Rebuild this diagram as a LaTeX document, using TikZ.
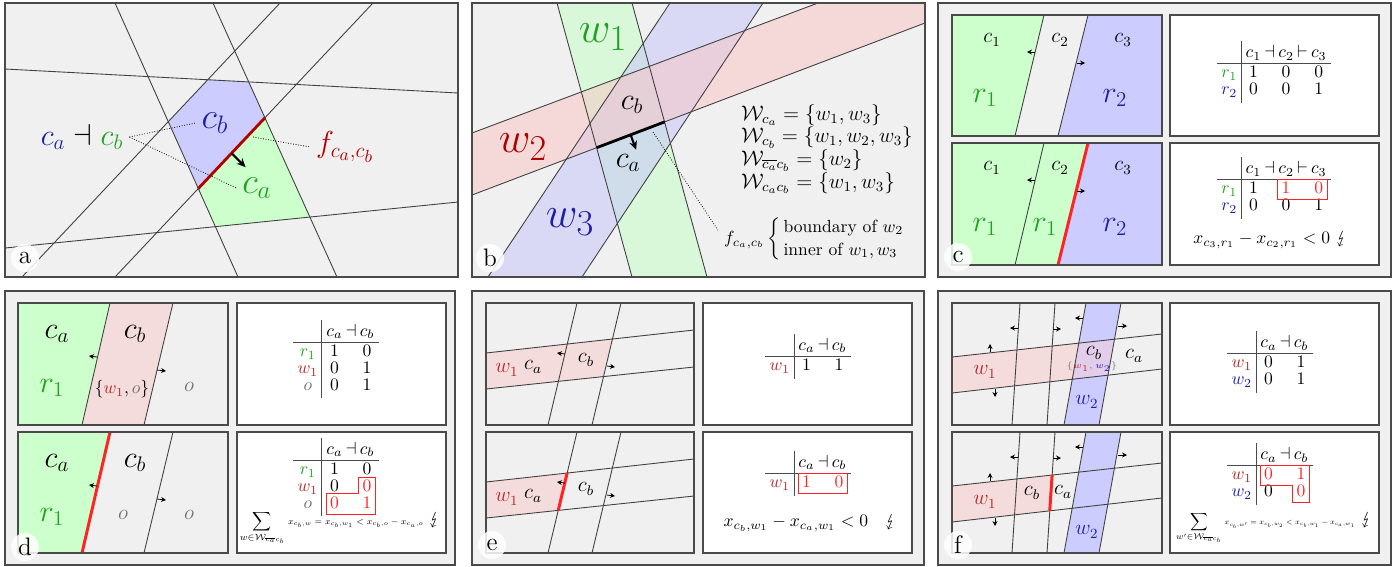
\documentclass[tikz,border=0pt]{standalone}
\usepackage{amsmath}
\usepackage{graphicx}
\usepackage{stmaryrd}
\usetikzlibrary{arrows.meta,calc,matrix,positioning}
\definecolor{hpInk}{HTML}{1E1E1E}
\definecolor{hpFrame}{HTML}{4A4A4A}
\definecolor{hpBack}{HTML}{F0F0F0}
\definecolor{hpGreenFill}{HTML}{CCFFCC}
\definecolor{hpBlueFill}{HTML}{CCCCFF}
\definecolor{hpPinkFill}{HTML}{F5DCDC}
\definecolor{hpPurpleFill}{HTML}{E2CDEB}
\definecolor{hpBandGreen}{HTML}{C4FFC4}
\definecolor{hpBandRed}{HTML}{FAC4C4}
\definecolor{hpBandBlue}{HTML}{C4C4FA}
\definecolor{hpGreen}{HTML}{22A022}
\definecolor{hpBlue}{HTML}{1E1EA6}
\definecolor{hpRed}{HTML}{B42828}
\definecolor{hpDeepRed}{HTML}{B00000}
\definecolor{hpFlag}{HTML}{FF2424}
\definecolor{hpMuted}{HTML}{707070}
\tikzset{
  hp panel/.style={fill=hpBack, draw=hpFrame, line width=.6pt},
  hp card/.style={fill=white, draw=hpFrame, line width=.6pt},
  hp box/.style={draw=hpFrame, line width=.6pt},
  hp cut/.style={draw=hpInk!85, line width=.5pt},
  hp face/.style={draw=hpFlag, line width=1.7pt},
  hp face dark/.style={draw=hpDeepRed, line width=1.6pt},
  hp face ink/.style={draw=black, line width=1.6pt},
  hp push/.style={draw=black, line width=.45pt, -{Stealth[length=2.8pt,width=2.8pt]}},
  hp push big/.style={draw=black, line width=1.2pt, -{Stealth[length=5pt,width=4.6pt]}},
  hp hint/.style={draw=black, line width=.45pt, densely dotted},
  hp tag/.style={circle, fill=white, fill opacity=.85, text opacity=1,
    minimum size=16pt, inner sep=0pt, font=\Large},
  hp table/.style={matrix of math nodes, inner sep=2pt, column sep=1pt, row sep=0pt,
    nodes={inner sep=.4pt, text height=6.8pt, text depth=2pt, minimum width=7pt}},
  hp rule/.style={draw=hpInk!80, line width=.55pt},
  hp flag/.style={draw=hpFlag, line width=.55pt}
}
\newcommand{\hprules}[1]{%
  \coordinate (#1v) at ($(#1-2-1.east)!.5!(#1-1-2.west)$);
  \coordinate (#1h) at ($(#1-1-2.south)!.5!(#1-2-2.north)$);
  \draw[hp rule] (#1v |- #1.north) -- (#1v |- #1.south);
  \draw[hp rule] (#1h -| #1.west) -- (#1h -| #1.east);
}

\begin{document}
\begin{tikzpicture}[x=.02cm,y=-.02cm]
  \useasboundingbox (0,0) rectangle (1399,566);

  % (a) two neighbouring cells
  \path[hp panel] (5,3) rectangle (458,277);
  \coordinate (a1s) at (5,69);    \coordinate (a1e) at (458,93);
  \coordinate (a2s) at (5,248);   \coordinate (a2e) at (458,202);
  \coordinate (a3s) at (115,3);   \coordinate (a3e) at (238,277);
  \coordinate (a4s) at (213,3);   \coordinate (a4e) at (337,277);
  \coordinate (a5s) at (22,277);  \coordinate (a5e) at (280,3);
  \coordinate (a6s) at (115,277); \coordinate (a6e) at (373,3);
  \coordinate (aP) at (intersection of a1s--a1e and a5s--a5e);
  \coordinate (aQ) at (intersection of a1s--a1e and a4s--a4e);
  \coordinate (aR) at (intersection of a4s--a4e and a6s--a6e);
  \coordinate (aS) at (intersection of a6s--a6e and a3s--a3e);
  \coordinate (aT) at (intersection of a3s--a3e and a5s--a5e);
  \coordinate (aU) at (intersection of a4s--a4e and a2s--a2e);
  \coordinate (aV) at (intersection of a3s--a3e and a2s--a2e);
  \fill[hpBlueFill] (aP) -- (aQ) -- (aR) -- (aS) -- (aT) -- cycle;
  \fill[hpGreenFill] (aR) -- (aU) -- (aV) -- (aS) -- cycle;
  \draw[hp cut] (a1s) -- (a1e);
  \draw[hp cut] (a2s) -- (a2e);
  \draw[hp cut] (a3s) -- (a3e);
  \draw[hp cut] (a4s) -- (a4e);
  \draw[hp cut] (a5s) -- (a5e);
  \draw[hp cut] (a6s) -- (a6e);
  \draw[hp face dark] (aS) -- (aR);
  \coordinate (aArr) at ($(aS)!.5!(aR)$);
  \draw[hp push big] (aArr) -- ++(14,14);
  \node[font=\huge, text=hpBlue] (cbA) at (215,123) {$c_b$};
  \node[font=\huge, text=hpGreen] (caA) at (257,188) {$c_a$};
  \node[font=\LARGE, text=hpDeepRed] (fA) at (345,147) {$f_{c_a,c_b}$};
  \node[font=\LARGE] (relA) at (82,137) {${\color{hpBlue}c_a}\dashv{\color{hpGreen}c_b}$};
  \coordinate (aHint) at (253,137);
  \draw[hp hint] (relA.east) -- (cbA.west);
  \draw[hp hint] (relA.east) -- (caA.west);
  \draw[hp hint] (aHint) -- (fA.west);
  \node[hp tag] (tagA) at (25,258) {a};

  % (b) the three walls
  \path[hp panel] (472,3) rectangle (925,277);
  \fill[hpBandGreen, fill opacity=.5] (557,3) -- (632,3) -- (707,277) -- (632,277) -- cycle;
  \fill[hpBandBlue, fill opacity=.5] (488,277) -- (670,3) -- (763,3) -- (582,277) -- cycle;
  \fill[hpBandRed, fill opacity=.5] (472,133) -- (818,3) -- (925,3) -- (925,23) -- (472,195) -- cycle;
  \coordinate (b1s) at (557,3);   \coordinate (b1e) at (632,277);
  \coordinate (b2s) at (632,3);   \coordinate (b2e) at (707,277);
  \coordinate (b3s) at (488,277); \coordinate (b3e) at (670,3);
  \coordinate (b4s) at (582,277); \coordinate (b4e) at (763,3);
  \coordinate (b5s) at (472,133); \coordinate (b5e) at (818,3);
  \coordinate (b6s) at (472,195); \coordinate (b6e) at (925,23);
  \draw[hp cut] (b1s) -- (b1e);
  \draw[hp cut] (b2s) -- (b2e);
  \draw[hp cut] (b3s) -- (b3e);
  \draw[hp cut] (b4s) -- (b4e);
  \draw[hp cut] (b5s) -- (b5e);
  \draw[hp cut] (b6s) -- (b6e);
  \draw[hp box] (472,3) rectangle (925,277);
  \coordinate (bP) at (intersection of b6s--b6e and b1s--b1e);
  \coordinate (bQ) at (intersection of b6s--b6e and b2s--b2e);
  \draw[hp face ink] (bP) -- (bQ);
  \coordinate (bArr) at ($(bP)!.5!(bQ)$);
  \draw[hp push big] (bArr) -- ++(5.5,15);
  \node[font=\Huge, text=hpGreen] (w1B) at (603,37) {$w_1$};
  \node[font=\Huge, text=hpDeepRed] (w2B) at (523,147) {$w_2$};
  \node[font=\Huge, text=hpBlue] (w3B) at (570,222) {$w_3$};
  \node[font=\LARGE] (cbB) at (632,105) {$c_b$};
  \node[font=\LARGE] (caB) at (628,163) {$c_a$};
  \node[anchor=west, align=left, font=\fontsize{12}{12.9}\selectfont] (eqB) at (735,149)
    {$\mathcal{W}_{c_a}=\{w_1,w_3\}$\\
     $\mathcal{W}_{c_b}=\{w_1,w_2,w_3\}$\\
     $\mathcal{W}_{\overline{c_a}c_b}=\{w_2\}$\\
     $\mathcal{W}_{c_ac_b}=\{w_1,w_3\}$};
  \node[anchor=west, execute at begin node=\renewcommand{\arraystretch}{1.1}] (fB) at (718,239)
    {$f_{c_a,c_b}\left\{\begin{array}{@{\,}l@{}}\text{boundary of }w_2\\
      \text{inner of }w_1,w_3\end{array}\right.$};
  \coordinate (bHint) at (653,132);
  \draw[hp hint] (bHint) -- ([yshift=5pt]fB.west);
  \node[hp tag] (tagB) at (490,258) {b};

  % (c) a region split by the flip
  \path[hp panel] (938,3) rectangle (1391,277);
  \fill[hpBack] (952,15) rectangle (1162,136);
  \fill[hpGreenFill] (952,15) -- (1044,15) -- (1015,136) -- (952,136) -- cycle;
  \fill[hpBlueFill] (1088,15) -- (1162,15) -- (1162,136) -- (1058,136) -- cycle;
  \draw[hp cut] (1044,15) -- (1015,136);
  \draw[hp cut] (1088,15) -- (1058,136);
  \draw[hp push] (1035,52) -- ++(-8,0);
  \draw[hp push] (1077,63) -- ++(8,0);
  \draw[hp box] (952,15) rectangle (1162,136);
  \node[font=\large] (c1C) at (992,40) {$c_1$};
  \node[font=\large] (c2C) at (1060,40) {$c_2$};
  \node[font=\large] (c3C) at (1123,40) {$c_3$};
  \node[font=\LARGE, text=hpGreen] (r1C) at (985,98) {$r_1$};
  \node[font=\LARGE, text=hpBlue] (r2C) at (1115,98) {$r_2$};
  \begin{scope}[shift={(0,128)}]
    \fill[hpBack] (952,15) rectangle (1162,137);
    \fill[hpGreenFill] (952,15) -- (1088,15) -- (1058,137) -- (952,137) -- cycle;
    \fill[hpBlueFill] (1088,15) -- (1162,15) -- (1162,137) -- (1058,137) -- cycle;
    \draw[hp cut] (1044,15) -- (1015,137);
    \draw[hp face] (1088,15) -- (1058,137);
    \draw[hp push] (1035,52) -- ++(-8,0);
    \draw[hp push] (1077,63) -- ++(8,0);
    \draw[hp box] (952,15) rectangle (1162,137);
    \node[font=\large] (c1Cb) at (992,40) {$c_1$};
    \node[font=\large] (c2Cb) at (1060,40) {$c_2$};
    \node[font=\large] (c3Cb) at (1123,40) {$c_3$};
    \node[font=\LARGE, text=hpGreen] (r1Cb) at (985,99) {$r_1$};
    \node[font=\LARGE, text=hpGreen] (r1Cc) at (1045,99) {$r_1$};
    \node[font=\LARGE, text=hpBlue] (r2Cb) at (1115,99) {$r_2$};
  \end{scope}
  \path[hp card] (1170,15) rectangle (1379,136);
  \matrix (tabC1) [hp table] at (1274,72) {
      &[3pt] c_1 & \dashv & c_2 & \vdash & c_3 \\[2pt]
    |[text=hpGreen]| r_1 & 1 & & 0 & & 0 \\
    |[text=hpBlue]| r_2 & 0 & & 0 & & 1 \\
  };
  \hprules{tabC1}
  \path[hp card] (1170,143) rectangle (1379,265);
  \matrix (tabC2) [hp table] at (1274,188) {
      &[3pt] c_1 & \dashv & c_2 & \vdash & c_3 \\[2pt]
    |[text=hpGreen]| r_1 & 1 & & |[text=hpFlag]| 1 & & |[text=hpFlag]| 0 \\
    |[text=hpBlue]| r_2 & 0 & & 0 & & 1 \\
  };
  \hprules{tabC2}
  \draw[hp flag] ([xshift=-1pt,yshift=.8pt]tabC2-2-4.north west)
    rectangle ([xshift=1pt,yshift=-.8pt]tabC2-2-6.south east);
  \node (ineqC) at (1270,240) {$x_{c_3,r_1}-x_{c_2,r_1}<0\ \lightning$};
  \node[hp tag] (tagC) at (958,257) {c};

  % (d) the wall w_1 against the other regions
  \path[hp panel] (5,291) rectangle (455,565);
  \fill[hpBack] (18,303) rectangle (228,425);
  \fill[hpGreenFill] (18,303) -- (110,303) -- (82,425) -- (18,425) -- cycle;
  \fill[hpPinkFill] (110,303) -- (173,303) -- (144,425) -- (82,425) -- cycle;
  \draw[hp cut] (110,303) -- (82,425);
  \draw[hp cut] (173,303) -- (144,425);
  \draw[hp push] (97,357) -- ++(-8,-1);
  \draw[hp push] (157,370) -- ++(9,1);
  \draw[hp box] (18,303) rectangle (228,425);
  \node[font=\LARGE] (caD) at (57,334) {$c_a$};
  \node[font=\LARGE] (cbD) at (135,334) {$c_b$};
  \node[font=\LARGE, text=hpGreen] (r1D) at (52,388) {$r_1$};
  \node (setD) at (122,389) {$\{{\color{hpRed}w_1},{\color{hpMuted}o}\}$};
  \node[font=\large, text=hpMuted] (oD) at (189,387) {$o$};
  \begin{scope}[shift={(0,129)}]
    \fill[hpBack] (18,303) rectangle (228,424);
    \fill[hpGreenFill] (18,303) -- (110,303) -- (82,424) -- (18,424) -- cycle;
    \draw[hp face] (110,303) -- (82,424);
    \draw[hp cut] (173,303) -- (144,424);
    \draw[hp push] (97,357) -- ++(-8,-1);
    \draw[hp push] (157,370) -- ++(9,1);
    \draw[hp box] (18,303) rectangle (228,424);
    \node[font=\LARGE] (caDb) at (57,334) {$c_a$};
    \node[font=\LARGE] (cbDb) at (135,334) {$c_b$};
    \node[font=\LARGE, text=hpGreen] (r1Db) at (52,388) {$r_1$};
    \node[font=\large, text=hpMuted] (oDb) at (123,386) {$o$};
    \node[font=\large, text=hpMuted] (oDc) at (189,386) {$o$};
  \end{scope}
  \path[hp card] (237,303) rectangle (446,425);
  \matrix (tabD1) [hp table] at (336,359) {
      &[3pt] c_a & \dashv & c_b \\[2pt]
    |[text=hpGreen]| r_1 & 1 & & 0 \\
    |[text=hpRed]| w_1 & 0 & & 1 \\
    |[text=hpMuted]| o & 0 & & 1 \\
  };
  \hprules{tabD1}
  \path[hp card] (237,432) rectangle (446,553);
  \matrix (tabD2) [hp table] at (336,477) {
      &[3pt] c_a & \dashv & c_b \\[2pt]
    |[text=hpGreen]| r_1 & 1 & & 0 \\
    |[text=hpRed]| w_1 & 0 & & |[text=hpFlag]| 0 \\
    |[text=hpMuted]| o & |[text=hpFlag]| 0 & & |[text=hpFlag]| 1 \\
  };
  \hprules{tabD2}
  \draw[hp flag] ([xshift=-1pt,yshift=.8pt]tabD2-3-4.north west)
    -| ([xshift=1pt,yshift=-.8pt]tabD2-4-4.south east)
    -| ([xshift=-1pt,yshift=.8pt]tabD2-4-2.north west)
    -| ([xshift=-1pt,yshift=.8pt]tabD2-3-4.north west) -- cycle;
  \node (sumD) at (340,528) {\scalebox{.75}{$\displaystyle\sum_{w\in\mathcal{W}_{\overline{c_a}c_b}}$}\,\scalebox{.7}{\scriptsize
    $x_{c_b,w}=x_{c_b,w_1}<x_{c_b,o}-x_{c_a,o}$}\ $\lightning$};
  \node[hp tag] (tagD) at (25,547) {d};

  % (e) one wall crossed by the flip
  \path[hp panel] (472,291) rectangle (924,565);
  \fill[hpBack] (486,303) rectangle (694,425);
  \coordinate (e1s) at (577,303); \coordinate (e1e) at (548,425);
  \coordinate (e2s) at (621,303); \coordinate (e2e) at (592,425);
  \coordinate (e3s) at (486,353); \coordinate (e3e) at (694,330);
  \coordinate (e4s) at (486,389); \coordinate (e4e) at (694,367);
  \fill[hpPinkFill] (e3s) -- (intersection of e3s--e3e and e2s--e2e)
    -- (intersection of e4s--e4e and e2s--e2e) -- (e4s) -- cycle;
  \draw[hp cut] (e1s) -- (e1e);
  \draw[hp cut] (e2s) -- (e2e);
  \draw[hp cut] (e3s) -- (e3e);
  \draw[hp cut] (e4s) -- (e4e);
  \draw[hp push] (565,354) -- ++(-8,-1);
  \draw[hp push] (607,366) -- ++(8,1);
  \draw[hp box] (486,303) rectangle (694,425);
  \node[font=\large, text=hpRed] (w1E) at (507,370) {$w_1$};
  \node[font=\large] (caE) at (533,367) {$c_a$};
  \node[font=\large] (cbE) at (586,360) {$c_b$};
  \begin{scope}[shift={(0,129)}]
    \fill[hpBack] (486,303) rectangle (694,424);
    \coordinate (e1s) at (577,303); \coordinate (e1e) at (548,424);
    \coordinate (e2s) at (621,303); \coordinate (e2e) at (592,424);
    \coordinate (e3s) at (486,353); \coordinate (e3e) at (694,330);
    \coordinate (e4s) at (486,389); \coordinate (e4e) at (694,367);
    \coordinate (eP) at (intersection of e3s--e3e and e1s--e1e);
    \coordinate (eQ) at (intersection of e4s--e4e and e1s--e1e);
    \fill[hpPinkFill] (e3s) -- (eP) -- (eQ) -- (e4s) -- cycle;
    \draw[hp cut] (e1s) -- (e1e);
    \draw[hp cut] (e2s) -- (e2e);
    \draw[hp cut] (e3s) -- (e3e);
    \draw[hp cut] (e4s) -- (e4e);
    \draw[hp face] (eP) -- (eQ);
    \draw[hp push] (565,354) -- ++(-8,-1);
    \draw[hp push] (607,366) -- ++(8,1);
    \draw[hp box] (486,303) rectangle (694,424);
    \node[font=\large, text=hpRed] (w1Eb) at (507,370) {$w_1$};
    \node[font=\large] (caEb) at (533,367) {$c_a$};
    \node[font=\large] (cbEb) at (586,360) {$c_b$};
  \end{scope}
  \path[hp card] (703,303) rectangle (912,425);
  \matrix (tabE1) [hp table] at (808,356) {
      &[3pt] c_a & \dashv & c_b \\[2pt]
    |[text=hpRed]| w_1 & 1 & & 1 \\
  };
  \hprules{tabE1}
  \path[hp card] (703,432) rectangle (912,553);
  \matrix (tabE2) [hp table] at (808,473) {
      &[3pt] c_a & \dashv & c_b \\[2pt]
    |[text=hpRed]| w_1 & |[text=hpFlag]| 1 & & |[text=hpFlag]| 0 \\
  };
  \hprules{tabE2}
  \draw[hp flag] ([xshift=-1pt,yshift=.8pt]tabE2-2-2.north west)
    rectangle ([xshift=1pt,yshift=-.8pt]tabE2-2-4.south east);
  \node (ineqE) at (810,523) {$x_{c_b,w_1}-x_{c_a,w_1}<0\quad\lightning$};
  \node[hp tag] (tagE) at (492,545) {e};

  % (f) two walls, flip between w_1 and w_2
  \path[hp panel] (938,291) rectangle (1391,565);
  \fill[hpBack] (952,303) rectangle (1162,425);
  \coordinate (f1s) at (1020,303); \coordinate (f1e) at (1012,425);
  \coordinate (f2s) at (1055,303); \coordinate (f2e) at (1047,425);
  \coordinate (f3s) at (1086,303); \coordinate (f3e) at (1064,425);
  \coordinate (f4s) at (1121,303); \coordinate (f4e) at (1099,425);
  \coordinate (f5s) at (952,357);  \coordinate (f5e) at (1162,334);
  \coordinate (f6s) at (952,393);  \coordinate (f6e) at (1162,369);
  \fill[hpPinkFill] (f5s) -- (intersection of f5s--f5e and f4s--f4e)
    -- (intersection of f6s--f6e and f4s--f4e) -- (f6s) -- cycle;
  \fill[hpBlueFill] (f3s) -- (f4s) -- (f4e) -- (f3e) -- cycle;
  \fill[hpPurpleFill] (intersection of f5s--f5e and f3s--f3e)
    -- (intersection of f5s--f5e and f4s--f4e)
    -- (intersection of f6s--f6e and f4s--f4e)
    -- (intersection of f6s--f6e and f3s--f3e) -- cycle;
  \draw[hp cut] (f1s) -- (f1e);
  \draw[hp cut] (f2s) -- (f2e);
  \draw[hp cut] (f3s) -- (f3e);
  \draw[hp cut] (f4s) -- (f4e);
  \draw[hp cut] (f5s) -- (f5e);
  \draw[hp cut] (f6s) -- (f6e);
  \draw[hp push] (990,352) -- ++(0,-8);
  \draw[hp push] (995,389) -- ++(0,8);
  \draw[hp push] (1018,328) -- ++(-8,0);
  \draw[hp push] (1053,329) -- ++(8,0);
  \draw[hp push] (1083,318) -- ++(-8,0);
  \draw[hp push] (1118,326) -- ++(9,0);
  \draw[hp box] (952,303) rectangle (1162,425);
  \node[font=\large, text=hpRed] (w1F) at (985,372) {$w_1$};
  \node[font=\large] (cbF) at (1094,353) {$c_b$};
  \node[font=\tiny, text=hpMuted] (setF) at (1092,367) {$\{{\color{hpRed}w_1},{\color{hpBlue}w_2}\}$};
  \node[font=\large] (caF) at (1134,356) {$c_a$};
  \node[font=\large, text=hpBlue] (w2F) at (1087,402) {$w_2$};
  \begin{scope}[shift={(0,129)}]
    \fill[hpBack] (952,303) rectangle (1162,424);
    \coordinate (f1s) at (1020,303); \coordinate (f1e) at (1012,424);
    \coordinate (f2s) at (1055,303); \coordinate (f2e) at (1047,424);
    \coordinate (f3s) at (1086,303); \coordinate (f3e) at (1064,424);
    \coordinate (f4s) at (1121,303); \coordinate (f4e) at (1099,424);
    \coordinate (f5s) at (952,357);  \coordinate (f5e) at (1162,334);
    \coordinate (f6s) at (952,393);  \coordinate (f6e) at (1162,369);
    \coordinate (fP) at (intersection of f5s--f5e and f2s--f2e);
    \coordinate (fQ) at (intersection of f6s--f6e and f2s--f2e);
    \fill[hpPinkFill] (f5s) -- (fP) -- (fQ) -- (f6s) -- cycle;
    \fill[hpBlueFill] (f3s) -- (f4s) -- (f4e) -- (f3e) -- cycle;
    \draw[hp cut] (f1s) -- (f1e);
    \draw[hp cut] (f2s) -- (f2e);
    \draw[hp cut] (f3s) -- (f3e);
    \draw[hp cut] (f4s) -- (f4e);
    \draw[hp cut] (f5s) -- (f5e);
    \draw[hp cut] (f6s) -- (f6e);
    \draw[hp face] (fP) -- (fQ);
    \draw[hp push] (990,352) -- ++(0,-8);
    \draw[hp push] (995,389) -- ++(0,8);
    \draw[hp push] (1018,328) -- ++(-8,0);
    \draw[hp push] (1053,329) -- ++(8,0);
    \draw[hp push] (1083,318) -- ++(-8,0);
    \draw[hp push] (1118,326) -- ++(9,0);
    \draw[hp box] (952,303) rectangle (1162,424);
    \node[font=\large, text=hpRed] (w1Fb) at (985,373) {$w_1$};
    \node[font=\large] (cbFb) at (1032,364) {$c_b$};
    \node[font=\large] (caFb) at (1063,363) {$c_a$};
    \node[font=\large, text=hpBlue] (w2Fb) at (1087,403) {$w_2$};
  \end{scope}
  \path[hp card] (1170,303) rectangle (1379,425);
  \matrix (tabF1) [hp table] at (1270,362) {
      &[3pt] c_a & \dashv & c_b \\[2pt]
    |[text=hpRed]| w_1 & 0 & & 1 \\
    |[text=hpBlue]| w_2 & 0 & & 1 \\
  };
  \hprules{tabF1}
  \path[hp card] (1170,432) rectangle (1379,553);
  \matrix (tabF2) [hp table] at (1270,474) {
      &[3pt] c_a & \dashv & c_b \\[2pt]
    |[text=hpRed]| w_1 & |[text=hpFlag]| 0 & & |[text=hpFlag]| 1 \\
    |[text=hpBlue]| w_2 & 0 & & |[text=hpFlag]| 0 \\
  };
  \hprules{tabF2}
  \draw[hp flag] ([xshift=-1pt,yshift=.8pt]tabF2-2-2.north west)
    -| ([xshift=1pt,yshift=-.8pt]tabF2-3-4.south east)
    -| ([xshift=-1pt,yshift=-.8pt]tabF2-2-4.south west)
    -| ([xshift=-1pt,yshift=.8pt]tabF2-2-2.north west) -- cycle;
  \node (sumF) at (1274,528) {\scalebox{.7}{$\displaystyle\sum_{w'\in\mathcal{W}_{\overline{c_a}c_b}}$}\,\scalebox{.6}{\scriptsize
    $x_{c_b,w'}=x_{c_b,w_2}<x_{c_b,w_1}-x_{c_a,w_1}$}\ $\lightning$};
  \node[hp tag] (tagF) at (958,545) {f};
\end{tikzpicture}
\end{document}
